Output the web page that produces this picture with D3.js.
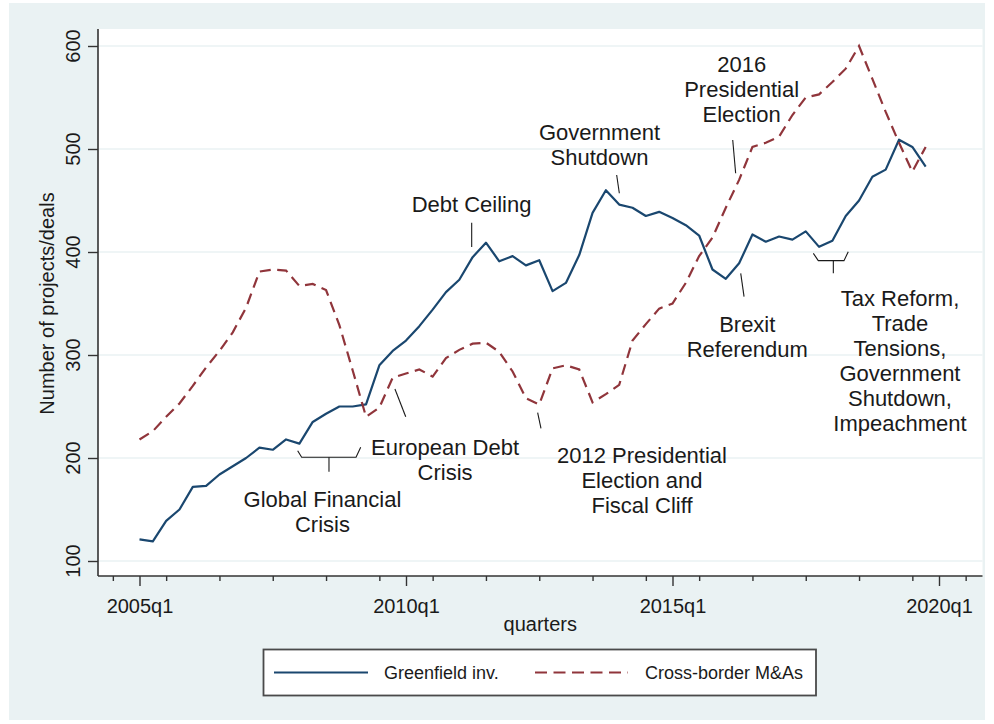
<!DOCTYPE html>
<html>
<head>
<meta charset="utf-8">
<script src="https://cdn.jsdelivr.net/npm/d3@7"></script>
<style>
  body { margin: 0; background: #ffffff; }
  text { font-family: "Liberation Sans", Arial, sans-serif; fill: #1a1a1a; }
</style>
</head>
<body>
<script>
// quarterly counts, 2005q1 .. 2019q4
const greenfield = [121, 119, 139, 150, 172, 173, 184, 192, 200, 210,
                    208, 218, 214, 235, 243, 250, 250, 252, 290, 304,
                    314, 328, 344, 361, 373, 395, 409, 391, 396, 387,
                    392, 362, 370, 397, 438, 460, 446, 443, 435, 439,
                    433, 426, 416, 383, 374, 389, 417, 410, 415, 412,
                    420, 405, 411, 435, 450, 473, 480, 509, 502, 483];
const mna = [218, 226, 240, 253, 270, 288, 304, 322, 346, 381,
             383, 382, 367, 369, 363, 329, 285, 240, 249, 278,
             282, 286, 279, 297, 305, 311, 312, 303, 284, 258,
             252, 287, 290, 286, 254, 262, 271, 314, 330, 345,
             350, 370, 396, 414, 443, 470, 502, 506, 512, 533,
             550, 553, 565, 578, 600, 568, 536, 506, 478, 502];

const yTicks = [100, 200, 300, 400, 500, 600];
const xTicks = [0, 20, 40, 60];                 // quarter index from 2005q1
const xTickLabels = ["2005q1", "2010q1", "2015q1", "2020q1"];
const xMinorTicks = [-2, 2, 6, 10, 14, 18, 22, 26, 30, 34, 38, 42, 46, 50, 54, 58, 62];

const seriesNames = ["Greenfield inv.", "Cross-border M&As"];

// event labels, placed in data units (quarter index, value)
const notes = [
  {lines: ["Global Financial", "Crisis"], t: 13.73, v: 152.7,
   marks: [[[11.87, 207.1], [12.17, 200.7], [16.25, 200.7], [16.6, 210.4]], [[14.22, 200.7], [14.22, 186.7]]]},
  {lines: ["European Debt", "Crisis"], t: 22.93, v: 202.9,
   marks: [[[19.17, 267], [19.98, 240.1]]]},
  {lines: ["Debt Ceiling"], t: 24.92, v: 439.1,
   marks: [[[24.93, 428.4], [24.93, 404.9]]]},
  {lines: ["2012 Presidential", "Election and", "Fiscal Cliff"], t: 37.71, v: 195.4,
   marks: [[[29.88, 244], [30.13, 228.8]]]},
  {lines: ["Government", "Shutdown"], t: 34.52, v: 508.7,
   marks: [[[35.81, 474.8], [36.01, 457.0]]]},
  {lines: ["2016", "Presidential", "Election"], t: 45.19, v: 574.8,
   marks: [[[44.52, 508.7], [44.74, 476.4]]]},
  {lines: ["Brexit", "Referendum"], t: 45.61, v: 322.0,
   marks: [[[45.12, 379.3], [45.37, 356.6]]]},
  {lines: ["Tax Reform,", "Trade", "Tensions,", "Government", "Shutdown,", "Impeachment"], t: 57.07, v: 347.6,
   marks: [[[50.57, 398.7], [50.94, 391.6], [52.87, 391.6], [53.19, 400.3]], [[52.07, 391.6], [52.07, 379.3]]]}
];

function drawChart() {
  const width = 994, height = 724;
  const plot = {left: 98, right: 982.5, top: 29, bottom: 576};

  const svg = d3.select("body").append("svg")
    .attr("width", width)
    .attr("height", height);

  svg.append("rect")
    .attr("x", 9).attr("y", 3)
    .attr("width", 976).attr("height", 717)
    .attr("fill", "#eaf2f3");

  svg.append("rect")
    .attr("x", plot.left).attr("y", plot.top)
    .attr("width", plot.right - plot.left)
    .attr("height", plot.bottom - plot.top)
    .attr("fill", "#ffffff");

  const x = d3.scaleLinear().domain([0, 60]).range([139.5, 939]);
  const y = d3.scaleLinear().domain([100, 600]).range([561, 46]);

  const g = {
    grid: svg.append("g").attr("id", "grid"),
    notes: svg.append("g").attr("id", "notes"),
    lines: svg.append("g").attr("id", "lines"),
    axes: svg.append("g").attr("id", "axes"),
    legend: svg.append("g").attr("id", "legend")
  };

  // horizontal grid
  g.grid.selectAll("line")
    .data(yTicks)
    .enter()
    .append("line")
    .attr("x1", plot.left).attr("x2", plot.right)
    .attr("y1", d => y(d)).attr("y2", d => y(d))
    .attr("stroke", "#eaf2f3")
    .attr("stroke-width", 1.6);

  // y axis
  const yAxis = d3.axisLeft(y).tickValues(yTicks).tickSize(10).tickFormat("");
  const ya = g.axes.append("g")
    .attr("transform", translate(plot.left, 0))
    .call(yAxis);
  ya.select(".domain").remove();
  ya.selectAll(".tick line").attr("stroke", "#333").attr("stroke-width", 1.4);

  g.axes.selectAll("text.ylab")
    .data(yTicks)
    .enter()
    .append("text")
    .attr("class", "ylab")
    .attr("transform", d => translate(80, y(d)) + " rotate(-90)")
    .attr("text-anchor", "middle")
    .style("font-size", "20px")
    .text(d => d);

  // x axis, minor then major ticks
  const xMinor = d3.axisBottom(x).tickValues(xMinorTicks).tickSize(5).tickFormat("");
  const xm = g.axes.append("g").attr("transform", translate(0, plot.bottom)).call(xMinor);
  xm.select(".domain").remove();
  xm.selectAll(".tick line").attr("stroke", "#333").attr("stroke-width", 1.4);

  const xAxis = d3.axisBottom(x).tickValues(xTicks).tickSize(10)
    .tickFormat((d, i) => xTickLabels[i]);
  const xa = g.axes.append("g").attr("transform", translate(0, plot.bottom)).call(xAxis);
  xa.select(".domain").remove();
  xa.selectAll(".tick line").attr("stroke", "#333").attr("stroke-width", 1.4);
  xa.selectAll(".tick text")
    .attr("y", 0).attr("dy", null)
    .attr("transform", translate(0, 36.5))
    .style("font-size", "20px")
    .style("font-family", "'Liberation Sans', Arial, sans-serif")
    .attr("fill", "#1a1a1a");

  g.axes.append("line")
    .attr("x1", plot.left).attr("x2", plot.left)
    .attr("y1", plot.top).attr("y2", plot.bottom)
    .attr("stroke", "#333").attr("stroke-width", 1.6);
  g.axes.append("line")
    .attr("x1", plot.left).attr("x2", plot.right)
    .attr("y1", plot.bottom).attr("y2", plot.bottom)
    .attr("stroke", "#333").attr("stroke-width", 1.6);

  // axis titles
  g.axes.append("text")
    .attr("transform", translate(54, (plot.top + plot.bottom) / 2 + 1) + " rotate(-90)")
    .attr("text-anchor", "middle")
    .style("font-size", "20px")
    .text("Number of projects/deals");

  g.axes.append("text")
    .attr("x", (plot.left + plot.right) / 2)
    .attr("y", 631)
    .attr("text-anchor", "middle")
    .style("font-size", "20px")
    .text("quarters");

  // series
  const line = d3.line()
    .x((d, i) => x(i))
    .y(d => y(d));

  g.lines.append("path")
    .datum(greenfield)
    .attr("d", line)
    .attr("fill", "none")
    .attr("stroke", "#1a476f")
    .attr("stroke-width", 2.2)
    .attr("stroke-linejoin", "round");

  g.lines.append("path")
    .datum(mna)
    .attr("d", line)
    .attr("fill", "none")
    .attr("stroke", "#90353b")
    .attr("stroke-width", 2.2)
    .attr("stroke-dasharray", "11,6.5");

  // event labels and their pointers
  const mark = d3.line().x(d => x(d[0])).y(d => y(d[1]));

  notes.forEach(function(n) {
    n.marks.forEach(function(m) {
      g.notes.append("path")
        .attr("d", mark(m))
        .attr("fill", "none")
        .attr("stroke", "#1a1a1a")
        .attr("stroke-width", 1.1);
    });

    const t = g.notes.append("text")
      .attr("x", x(n.t))
      .attr("y", y(n.v))
      .attr("text-anchor", "middle")
      .style("font-size", "22px");

    t.selectAll("tspan")
      .data(n.lines)
      .enter()
      .append("tspan")
      .attr("x", x(n.t))
      .attr("dy", (d, i) => i === 0 ? 0 : 25)
      .text(d => d);
  });

  // legend
  g.legend.append("rect")
    .attr("x", 263.5).attr("y", 649.5)
    .attr("width", 552.5).attr("height", 46)
    .attr("fill", "#ffffff")
    .attr("stroke", "#4a4a4a")
    .attr("stroke-width", 1.8);

  const keys = [
    {x1: 274, x2: 368, tx: 384, color: "#1a476f", dash: null},
    {x1: 535, x2: 628, tx: 645, color: "#90353b", dash: "12,6.5"}
  ];

  keys.forEach(function(k, i) {
    g.legend.append("line")
      .attr("x1", k.x1).attr("x2", k.x2)
      .attr("y1", 672.5).attr("y2", 672.5)
      .attr("stroke", k.color)
      .attr("stroke-width", 2.2)
      .attr("stroke-dasharray", k.dash);

    g.legend.append("text")
      .attr("x", k.tx)
      .attr("y", 679)
      .style("font-size", "18px")
      .text(seriesNames[i]);
  });

  function translate(a, b) {
    return "translate(" + String(a) + "," + String(b) + ")";
  }
}

drawChart();
</script>
</body>
</html>
